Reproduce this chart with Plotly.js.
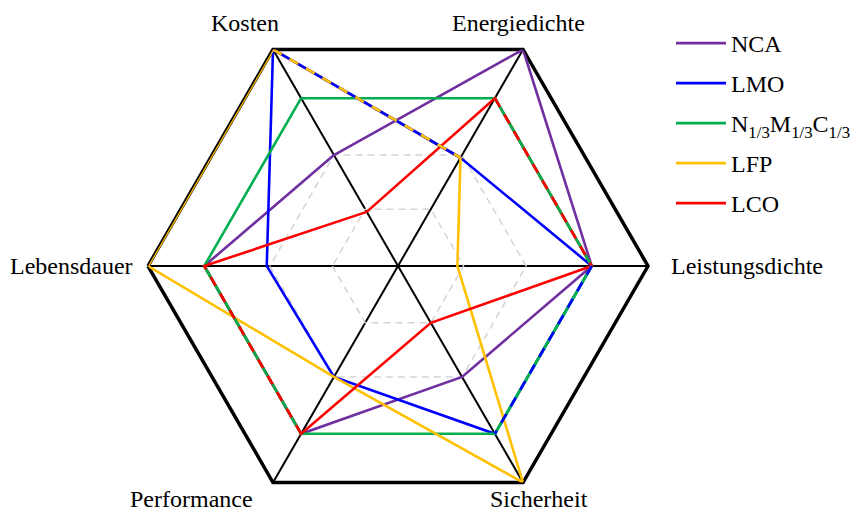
<!DOCTYPE html>
<html>
<head>
<meta charset="utf-8">
<script src="https://cdn.plot.ly/plotly-3.0.1.min.js"></script>
<style>
html, body { margin: 0; padding: 0; overflow: hidden; background: #fff; }
#chart { width: 852px; height: 522px; }
</style>
</head>
<body>
<div id="chart"></div>
<script>
// Axes (clockwise from top-left)
const categories = ['Kosten', 'Energiedichte', 'Leistungsdichte', 'Sicherheit', 'Performance', 'Lebensdauer'];

// Series names
const seriesNames = ['NCA', 'LMO', 'N<sub>1/3</sub>M<sub>1/3</sub>C<sub>1/3</sub>', 'LFP', 'LCO'];

// Values (scale 0..4)
const valuesNCA = [2.05, 4, 3.1, 2.05, 3.1, 3.1];
const valuesLMO = [4, 2, 3.1, 3.1, 2.05, 2.1];
const valuesNMC = [3.1, 3.1, 3.1, 3.1, 3.1, 3.1];
const valuesLFP = [4, 2, 0.95, 4, 2.05, 4];
const valuesLCO = [1, 3.1, 3.1, 1.05, 3.1, 3.1];

const seriesValues = [valuesNCA, valuesLMO, valuesNMC, valuesLFP, valuesLCO];
const seriesColors = ['#7030A0', '#0000FF', '#00B050', '#FFC000', '#FF0000'];

const FONT = '"Times New Roman", "Liberation Serif", serif';
const FS = 24;
const LW = 2.6;

function closed(arr) { return arr.concat([arr[0]]); }

const traces = seriesValues.map((vals, k) => ({
  type: 'scatterpolar',
  mode: 'lines',
  r: closed(vals),
  theta: closed(categories),
  name: seriesNames[k],
  legendgroup: 'g' + k,
  line: { color: seriesColors[k], width: LW },
  hoverinfo: 'skip'
}));

// Shared segments: drawn again as solid base + dashed colour on top
function segment(vals, i, j, color, dash) {
  return {
    type: 'scatterpolar', mode: 'lines',
    r: [vals[i], vals[j]], theta: [categories[i], categories[j]],
    line: { color: color, width: LW, dash: dash },
    showlegend: false, hoverinfo: 'skip'
  };
}
const D = '10px,9px';
const overlays = [
  // Kosten -> Energiedichte : LMO / LFP
  segment(valuesLMO, 0, 1, seriesColors[1], 'solid'),
  segment(valuesLFP, 0, 1, seriesColors[3], D),
  // Energiedichte -> Leistungsdichte : NMC / LCO
  segment(valuesNMC, 1, 2, seriesColors[2], 'solid'),
  segment(valuesLCO, 1, 2, seriesColors[4], D),
  // Leistungsdichte -> Sicherheit : NMC / LMO
  segment(valuesNMC, 2, 3, seriesColors[2], 'solid'),
  segment(valuesLMO, 2, 3, seriesColors[1], D),
  // Performance -> Lebensdauer : NMC / LCO
  segment(valuesNMC, 4, 5, seriesColors[2], 'solid'),
  segment(valuesLCO, 4, 5, seriesColors[4], D)
];

// Label positions (pixels) -> paper coords
const W = 852, TOP = 16, PH = 500;
const labelPos = [
  [245, 23, 'center'], [518, 23, 'center'], [669, 266, 'left'],
  [539, 499, 'center'], [191, 499, 'center'], [135, 266, 'right']
];
const annotations = categories.map((c, i) => ({
  text: c, xref: 'paper', yref: 'paper',
  x: labelPos[i][0] / W, y: (TOP + PH - labelPos[i][1]) / PH,
  xanchor: labelPos[i][2], yanchor: 'middle', showarrow: false,
  font: { family: FONT, size: FS, color: '#000' }
}));

const layout = {
  width: 852, height: 522,
  margin: { l: 0, r: 0, t: TOP, b: 6, autoexpand: false },
  paper_bgcolor: '#fff',
  showlegend: true,
  legend: {
    x: 671 / W, xanchor: 'left', y: (TOP + PH - 21) / PH, yanchor: 'top',
    font: { family: FONT, size: FS, color: '#000' },
    traceorder: 'grouped', tracegroupgap: 5.8, itemwidth: 50,
    bgcolor: 'rgba(0,0,0,0)'
  },
  annotations: annotations,
  polar: {
    domain: { x: [148 / W, 648 / W], y: [0, 1] },
    bgcolor: '#fff',
    gridshape: 'linear',
    angularaxis: {
      type: 'category', categoryarray: categories,
      rotation: 120, direction: 'clockwise',
      showline: true, linecolor: '#000', linewidth: 3.5,
      showgrid: true, gridcolor: '#000', gridwidth: 2,
      showticklabels: false, ticks: '', layer: 'below traces'
    },
    radialaxis: {
      range: [0, 4], showline: false, showticklabels: false, ticks: '',
      tickvals: [1.05, 2.05], showgrid: true, gridcolor: '#D4D4D4',
      gridwidth: 1.5, griddash: '7px,5px', layer: 'below traces'
    }
  }
};

Plotly.newPlot('chart', traces.concat(overlays), layout, { displayModeBar: false, staticPlot: true });
</script>
</body>
</html>
